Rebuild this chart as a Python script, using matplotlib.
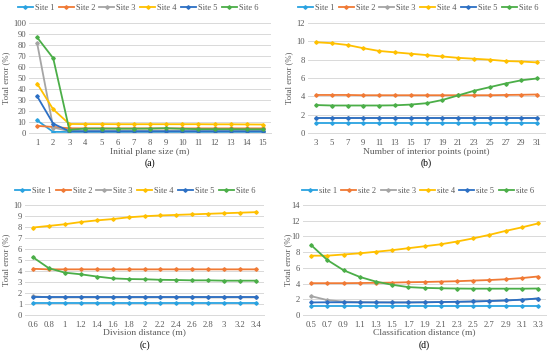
import matplotlib
matplotlib.use('Agg')
import matplotlib.pyplot as plt
import numpy as np

plt.rcParams['font.family'] = ['Liberation Serif', 'DejaVu Serif']

colors = ['#2AA2E0', '#F07A35', '#A5A5A5', '#FFC000', '#2C6FC4', '#4BAE48']

# (a) Initial plane size
xa = ['1', '2', '3', '4', '5', '6', '7', '8', '9', '10', '11', '12', '13', '14', '15']
a1 = [11.5, 1.0, 1.0, 1.0, 1.0, 1.0, 1.0, 1.0, 1.0, 1.0, 1.0, 1.0, 1.0, 1.0, 1.0]
a2 = [6.5, 5.5, 4.3, 4.2, 4.2, 4.2, 4.2, 4.2, 4.2, 4.2, 4.2, 4.2, 4.2, 4.2, 4.2]
a3 = [82.0, 5.0, 1.7, 1.6, 1.6, 1.6, 1.6, 1.6, 1.6, 1.6, 1.6, 1.6, 1.6, 1.6, 1.6]
a4 = [45.0, 21.5, 8.2, 8.1, 8.1, 8.0, 8.0, 8.0, 8.0, 8.0, 8.0, 7.9, 7.9, 7.8, 7.7]
a5 = [33.5, 8.5, 1.6, 1.6, 1.6, 1.6, 1.6, 1.6, 1.6, 1.6, 1.6, 1.6, 1.6, 1.6, 1.6]
a6 = [87.0, 68.0, 3.0, 4.0, 4.0, 3.9, 3.9, 4.0, 4.3, 3.8, 3.5, 3.5, 3.5, 3.4, 3.4]

# (b) Number of interior points
xb = ['3', '5', '7', '9', '11', '13', '15', '17', '19', '21', '23', '25', '27', '29', '31']
b1 = [1.05] * 15
b2 = [4.15, 4.15, 4.15, 4.12, 4.12, 4.12, 4.12, 4.12, 4.12, 4.12, 4.12, 4.12, 4.15, 4.17, 4.2]
b3 = [1.6] * 15
b4 = [9.9, 9.8, 9.6, 9.25, 8.95, 8.8, 8.65, 8.5, 8.35, 8.2, 8.1, 8.0, 7.85, 7.8, 7.7]
b5 = [1.6] * 15
b6 = [3.05, 3.0, 3.0, 3.0, 3.0, 3.02, 3.1, 3.25, 3.6, 4.1, 4.6, 5.0, 5.4, 5.75, 5.95]

# (c) Division distance
xc = ['0.6', '0.8', '1', '1.2', '1.4', '1.6', '1.8', '2', '2.2', '2.4', '2.6', '2.8', '3', '3.2', '3.4']
c1 = [1.1] * 15
c2 = [4.2, 4.15, 4.15, 4.15, 4.15, 4.15, 4.15, 4.15, 4.15, 4.15, 4.15, 4.15, 4.15, 4.15, 4.15]
c3 = [1.7, 1.6, 1.6, 1.6, 1.6, 1.6, 1.6, 1.6, 1.6, 1.6, 1.6, 1.6, 1.6, 1.6, 1.6]
c4 = [7.95, 8.1, 8.25, 8.45, 8.6, 8.72, 8.88, 8.98, 9.05, 9.1, 9.15, 9.2, 9.25, 9.3, 9.35]
c5 = [1.6] * 15
c6 = [5.25, 4.25, 3.85, 3.7, 3.5, 3.33, 3.27, 3.25, 3.2, 3.18, 3.15, 3.15, 3.12, 3.12, 3.12]

# (d) Classification distance
xd = ['0.5', '0.7', '0.9', '1.1', '1.3', '1.5', '1.7', '1.9', '2.1', '2.3', '2.5', '2.7', '2.9', '3.1', '3.3']
d1 = [1.1] * 15
d2 = [4.05, 4.05, 4.05, 4.07, 4.1, 4.12, 4.17, 4.2, 4.25, 4.3, 4.38, 4.45, 4.55, 4.7, 4.9]
d3 = [2.4, 1.9, 1.7, 1.65, 1.62, 1.6, 1.6, 1.62, 1.65, 1.68, 1.72, 1.78, 1.85, 1.95, 2.1]
d4 = [7.55, 7.55, 7.7, 7.85, 8.05, 8.25, 8.5, 8.75, 9.0, 9.35, 9.75, 10.2, 10.7, 11.15, 11.65]
d5 = [1.6, 1.62, 1.62, 1.6, 1.6, 1.6, 1.6, 1.62, 1.65, 1.68, 1.72, 1.78, 1.85, 1.95, 2.1]
d6 = [8.9, 7.0, 5.7, 4.85, 4.25, 3.85, 3.55, 3.45, 3.4, 3.37, 3.35, 3.35, 3.35, 3.35, 3.37]

W, H = 550, 352
fig = plt.figure(figsize=(W / 100, H / 100), dpi=100)


def panel(rect, cats, series, names, ymax, ystep, xlabel, tag, legx, legy, labx, xly, tagy):
    l, t, r, b = rect
    ax = fig.add_axes([l / W, 1 - b / H, (r - l) / W, (b - t) / H])
    x = np.arange(len(cats))
    for s, n, c in zip(series, names, colors):
        ax.plot(x, s, color=c, lw=1.3, marker='D', ms=1.8, label=n)
    ax.set_xlim(-0.5, len(cats) - 0.5)
    ax.set_ylim(0, ymax)
    ax.set_yticks(np.arange(0, ymax + 0.01, ystep))
    ax.set_xticks(x)
    ax.set_xticklabels(cats)
    ax.tick_params(length=0, labelsize=6.2, colors='#595959')
    ax.tick_params(axis='y', pad=2)
    ax.tick_params(axis='x', pad=4)
    ax.grid(axis='y', color='#D9D9D9', lw=0.7)
    ax.set_axisbelow(True)
    for sp in ['top', 'right', 'left']:
        ax.spines[sp].set_visible(False)
    ax.spines['bottom'].set_color('#D9D9D9')
    ax.spines['bottom'].set_linewidth(0.7)
    fig.text(labx / W, 1 - (t + b) / 2 / H, 'Total error (%)', rotation=90,
             ha='center', va='center', fontsize=6.3, color='#595959')
    fig.text((l + r) / 2 / W, 1 - xly / H, xlabel, ha='center', va='center',
             fontsize=6.8, color='#595959')
    fig.text((l + r) / 2 / W, 1 - tagy / H, tag, ha='center', va='center',
             fontsize=7, color='black')
    ax.legend(loc='center', bbox_to_anchor=(legx / W, 1 - legy / H),
              bbox_transform=fig.transFigure, ncol=6, frameon=False,
              fontsize=6.0, handlelength=1.8, handletextpad=0.25,
              columnspacing=0.5, labelcolor='#595959',
              borderpad=0, borderaxespad=0)
    return ax


names = ['Site 1', 'Site 2', 'Site 3', 'Site 4', 'Site 5', 'Site 6']
names_d = ['site 1', 'site 2', 'site 3', 'site 4', 'site 5', 'site 6']

panel((29, 23, 271, 133), xa, [a1, a2, a3, a4, a5, a6], names, 100, 10,
      'Initial plane size (m)', '(a)', 138, 8, 6, 152, 163)
panel((308, 23, 545, 133), xb, [b1, b2, b3, b4, b5, b6], names, 12, 2,
      'Number of interior points (point)', '(b)', 418, 8, 289, 152, 163)
panel((25, 205, 264, 315), xc, [c1, c2, c3, c4, c5, c6], names, 10, 1,
      'Division distance (m)', '(c)', 135, 191, 6, 332, 345)
panel((303, 205, 546, 315), xd, [d1, d2, d3, d4, d5, d6], names_d, 14, 2,
      'Classification distance (m)', '(d)', 418, 191, 288, 332, 345)

fig.savefig('out.png', dpi=100, facecolor='white')
